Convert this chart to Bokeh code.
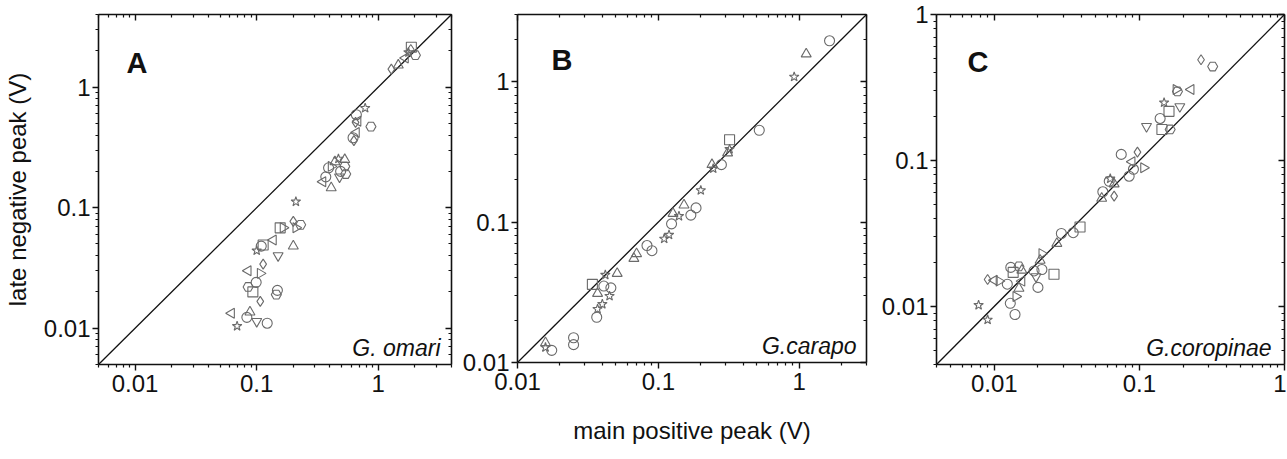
import math
from bokeh.plotting import figure
from bokeh.models import LogAxis, FixedTicker, CustomJSTickFormatter, Label, ColumnDataSource
from bokeh.layouts import row
from bokeh.embed import file_html
from bokeh.resources import INLINE

# ---------------- data ----------------
TICKS = [0.01, 0.1, 1]
TICK_LABELS = ["0.01", "0.1", "1"]

X_LABEL = "main positive peak (V)"
Y_LABEL = "late negative peak (V)"
PANEL_LETTERS = ["A", "B", "C"]
SPECIES = ["G. omari", "G.carapo", "G.coropinae"]
RANGES = [(0.005, 4.0), (0.01, 3.0), (0.004, 1.0)]

a_x = [1.28, 1.46, 1.67, 1.77, 1.87, 2.02, 1.85, 0.78, 0.66, 0.65, 0.68, 0.87, 0.66, 0.62, 0.63,
       0.47, 0.53, 0.44, 0.53, 0.39, 0.41, 0.48, 0.49, 0.54, 0.37, 0.35, 0.41,
       0.21, 0.20, 0.23, 0.21, 0.156, 0.165, 0.137, 0.113, 0.109, 0.10, 0.20, 0.15, 0.113,
       0.085, 0.107, 0.099, 0.085, 0.093, 0.148, 0.145, 0.107, 0.062, 0.088, 0.083, 0.10, 0.122, 0.069]
a_y = [1.41, 1.52, 1.74, 1.94, 2.14, 1.84, 2.05, 0.67, 0.59, 0.51, 0.52, 0.47, 0.42, 0.38, 0.36,
       0.254, 0.25, 0.24, 0.22, 0.214, 0.22, 0.18, 0.20, 0.19, 0.18, 0.164, 0.146,
       0.112, 0.077, 0.072, 0.068, 0.068, 0.068, 0.054, 0.049, 0.048, 0.044, 0.048, 0.040, 0.034,
       0.030, 0.0285, 0.024, 0.022, 0.020, 0.0206, 0.019, 0.0167, 0.0133, 0.0136, 0.0123, 0.0114, 0.011, 0.0104]
a_m = ["diamond", "triangle", "tri_left", "star", "square", "hex", "diamond", "star", "circle", "diamond",
       "tri_left", "hex", "tri_left", "circle", "diamond",
       "star", "triangle", "triangle", "hex", "circle", "tri_right", "inverted_triangle", "circle", "hex",
       "circle", "tri_left", "triangle",
       "star", "diamond", "hex", "tri_right", "square", "tri_right", "tri_left", "square", "circle", "star",
       "triangle", "inverted_triangle", "diamond",
       "tri_left", "tri_right", "circle", "hex", "square", "circle", "hex", "diamond", "tri_left", "triangle",
       "circle", "inverted_triangle", "circle", "star"]

b_x = [1.64, 1.12, 0.92, 0.52, 0.32, 0.32, 0.31, 0.28, 0.24, 0.245, 0.2, 0.152, 0.185, 0.17, 0.14,
       0.127, 0.124, 0.119, 0.11, 0.083, 0.09, 0.070, 0.067, 0.051, 0.042, 0.034, 0.041, 0.046,
       0.037, 0.045, 0.040, 0.037, 0.0365, 0.025, 0.025, 0.0158, 0.0158, 0.0175]
b_y = [1.95, 1.57, 1.08, 0.45, 0.385, 0.33, 0.31, 0.256, 0.256, 0.24, 0.168, 0.132, 0.126, 0.112, 0.11,
       0.115, 0.097, 0.081, 0.076, 0.068, 0.0625, 0.0595, 0.055, 0.043, 0.042, 0.036, 0.035, 0.034,
       0.031, 0.0297, 0.026, 0.024, 0.021, 0.015, 0.0134, 0.0138, 0.0128, 0.0122]
b_m = ["circle", "triangle", "star", "circle", "square", "star", "triangle", "circle", "triangle", "star",
       "star", "triangle", "circle", "circle", "star", "triangle", "circle", "star", "star", "circle",
       "circle", "triangle", "triangle", "triangle", "star", "square", "circle", "circle", "triangle",
       "star", "star", "star", "circle", "circle", "circle", "triangle", "star", "circle"]

c_x = [0.266, 0.32, 0.227, 0.179, 0.183, 0.148, 0.19, 0.16, 0.139, 0.112, 0.143, 0.163, 0.075, 0.097,
       0.089, 0.107, 0.091, 0.085, 0.063, 0.062, 0.067, 0.056, 0.067, 0.055, 0.029, 0.035, 0.039,
       0.027, 0.0213, 0.0207, 0.0258, 0.013, 0.0148, 0.0213, 0.0155, 0.0135, 0.0188, 0.0194, 0.009,
       0.010, 0.0108, 0.0123, 0.0155, 0.02, 0.0148, 0.0141, 0.0129, 0.0139, 0.0078, 0.009]
c_y = [0.49, 0.44, 0.306, 0.306, 0.297, 0.249, 0.234, 0.217, 0.194, 0.171, 0.163, 0.163, 0.11, 0.114,
       0.098, 0.089, 0.087, 0.078, 0.075, 0.072, 0.069, 0.061, 0.057, 0.055, 0.0316, 0.032, 0.035,
       0.027, 0.023, 0.0207, 0.0166, 0.0185, 0.0188, 0.0179, 0.0177, 0.0171, 0.0175, 0.016, 0.0153,
       0.0151, 0.0149, 0.0142, 0.0149, 0.0135, 0.0133, 0.0117, 0.0105, 0.0088, 0.0102, 0.0081]
c_m = ["diamond", "hex", "tri_left", "tri_right", "hex", "star", "inverted_triangle", "square", "circle",
       "inverted_triangle", "square", "hex", "circle", "diamond", "tri_left", "tri_right", "circle", "circle",
       "star", "circle", "triangle", "circle", "diamond", "triangle", "circle", "circle", "square",
       "triangle", "tri_right", "triangle", "square", "circle", "hex", "circle", "triangle", "square",
       "circle", "inverted_triangle", "diamond", "tri_left", "tri_right", "circle", "tri_left", "circle",
       "triangle", "tri_right", "circle", "circle", "star", "star"]

PANELS = [(a_x, a_y, a_m), (b_x, b_y, b_m), (c_x, c_y, c_m)]

# ---------------- styling ----------------
FONT = "Liberation Sans"
TXT = "#111111"
MARK = "#6a6a6a"
FS = "24px"

# layout: (frame_w, frame_h, left, right, top, bottom)
GEOM = [(353, 350, 92, 7, 12, 88), (349, 348, 59, 12, 14, 88), (348, 350, 57, 2, 12, 88)]
LETTER_POS = [(28, 302), (34, 303), (31, 303)]
SPECIES_POS = [(11, 17), (10, 17), (13, 17)]

SHAPE = {"tri_left": ("triangle", math.pi / 2), "tri_right": ("triangle", -math.pi / 2)}

LABEL_JS = """
for (let i = 0; i < ticks_v.length; i++) {
  if (Math.abs(Math.log10(tick) - Math.log10(ticks_v[i])) < 1e-6) { return labels[i]; }
}
return "";
"""


def minor_ticks(lo, hi):
    out = []
    for e in range(-4, 2):
        for m in range(2, 10):
            v = m * 10.0 ** e
            if lo <= v <= hi:
                out.append(v)
    return out


def style_axis(ax, outward, show_labels):
    ax.axis_line_width = 1.6
    ax.axis_line_color = TXT
    ax.major_tick_line_width = 1.4
    ax.minor_tick_line_width = 1.2
    ax.major_tick_line_color = TXT
    ax.minor_tick_line_color = TXT
    if outward:
        ax.major_tick_out, ax.major_tick_in = 6, 0
        ax.minor_tick_out, ax.minor_tick_in = 3, 0
    else:
        ax.major_tick_out, ax.major_tick_in = 0, 6
        ax.minor_tick_out, ax.minor_tick_in = 0, 3
    ax.major_label_text_font = FONT
    ax.major_label_text_color = TXT
    if show_labels:
        ax.major_label_text_font_size = FS
        ax.formatter = CustomJSTickFormatter(args=dict(ticks_v=TICKS, labels=TICK_LABELS), code=LABEL_JS)
    else:
        ax.major_label_text_font_size = "1px"
        ax.major_label_text_alpha = 0
        ax.major_label_standoff = 0
        ax.formatter = CustomJSTickFormatter(code="return '';")
    ax.axis_label_text_font = FONT
    ax.axis_label_text_font_size = FS
    ax.axis_label_text_font_style = "normal"
    ax.axis_label_text_color = TXT


figs = []
for i, ((xs, ys, ms), (lo, hi), (fw, fh, bl, br, bt, bb)) in enumerate(zip(PANELS, RANGES, GEOM)):
    p = figure(x_axis_type="log", y_axis_type="log", x_range=(lo, hi), y_range=(lo, hi),
               frame_width=fw, frame_height=fh, min_border_left=bl, min_border_right=br,
               min_border_top=bt, min_border_bottom=bb, output_backend="svg",
               toolbar_location=None, background_fill_color="white", border_fill_color="white")
    p.outline_line_color = None
    p.xgrid.visible = False
    p.ygrid.visible = False

    mk = [SHAPE.get(m, (m, 0.0))[0] for m in ms]
    ang = [SHAPE.get(m, (m, 0.0))[1] for m in ms]
    src = ColumnDataSource(dict(x=xs, y=ys, marker=mk, angle=ang))

    p.line(x=[lo, hi], y=[lo, hi], line_color="#111111", line_width=1.3)
    p.scatter(x="x", y="y", marker="marker", angle="angle", size=10, source=src,
              line_color=MARK, fill_color=None, line_width=1.1)

    ticker = FixedTicker(ticks=TICKS, minor_ticks=minor_ticks(lo, hi))

    bottom = p.xaxis[0]
    left = p.yaxis[0]
    for ax in (bottom, left):
        ax.ticker = ticker
        style_axis(ax, True, True)
    bottom.major_label_standoff = 4
    left.major_label_standoff = 2

    top = LogAxis(ticker=ticker)
    right = LogAxis(ticker=ticker)
    style_axis(top, False, False)
    style_axis(right, False, False)
    p.add_layout(top, "above")
    p.add_layout(right, "right")

    if i == 0:
        left.axis_label = Y_LABEL
        left.axis_label_standoff = 10
    if i == 1:
        bottom.axis_label = X_LABEL
        bottom.axis_label_standoff = 24

    lx, ly = LETTER_POS[i]
    p.add_layout(Label(x=lx, y=ly, x_units="screen", y_units="screen", text=PANEL_LETTERS[i],
                       text_font=FONT, text_font_size="29px", text_font_style="bold",
                       text_color=TXT, text_baseline="alphabetic"))
    sx, sy = SPECIES_POS[i]
    p.add_layout(Label(x=fw - sx, y=sy, x_units="screen", y_units="screen", text=SPECIES[i],
                       text_font=FONT, text_font_size="23px", text_font_style="italic",
                       text_color=TXT, text_align="right", text_baseline="alphabetic"))
    figs.append(p)

layout = row(*figs, spacing=0)
open("out.html", "w").write(file_html(layout, INLINE))
